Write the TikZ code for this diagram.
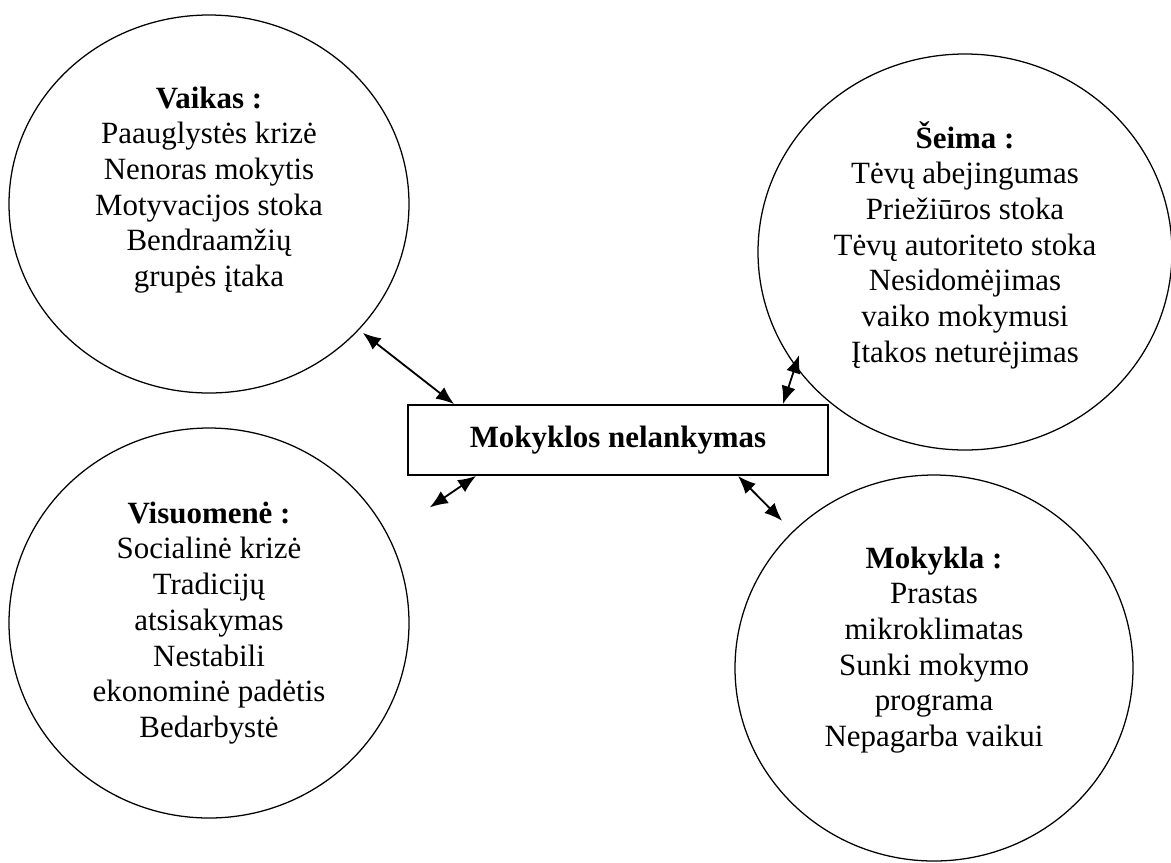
\documentclass[tikz,border=0pt]{standalone}
\usepackage{fontspec}
\setmainfont{Liberation Serif}
\usepackage{tikz}
\usetikzlibrary{positioning}
\usetikzlibrary{shapes,arrows.meta}

\begin{document}
\begin{tikzpicture}[scale=1]
\tikzstyle{cause}=[ellipse, line width=0.9pt, draw=black, inner sep=0pt]
\tikzstyle{txt}=[align=center, font=\fontsize{22}{25.4}\selectfont]
\tikzstyle{box}=[rectangle, line width=1.3pt, draw=black, minimum width=10.5cm, minimum height=1.75cm, font=\fontsize{22}{25.4}\selectfont\bfseries]
\tikzstyle{connect}=[{Latex[length=4.5mm,width=3.6mm]}-{Latex[length=4.5mm,width=3.6mm]}, line width=1.3pt]
\useasboundingbox (0,0) rectangle (29.275,-21.55);
	\node[box] (problem) at (15.45,-11) {Mokyklos nelankymas};

	\node[cause, minimum width=10cm, minimum height=9.45cm] (vaikas) at (5.225,-5.1)
		[label={[txt,yshift=3.5mm]center:{\textbf{Vaikas :}\\Paauglystės krizė\\Nenoras mokytis\\Motyvacijos stoka\\Bendraamžių\\grupės įtaka}}]{};
	\node[cause, minimum width=10.35cm, minimum height=9.9cm] (seima) at (24.125,-6.3)
		[label={[txt,yshift=1.75mm]center:{\textbf{Šeima :}\\Tėvų abejingumas\\Priežiūros stoka\\Tėvų autoriteto stoka\\Nesidomėjimas\\vaiko mokymusi\\Įtakos neturėjimas}}]{};
	\node[cause, minimum width=10cm, minimum height=9.75cm] (visuomene) at (5.225,-15.575)
		[label={[txt]center:{\textbf{Visuomenė :}\\Socialinė krizė\\Tradicijų\\atsisakymas\\Nestabili\\ekonominė padėtis\\Bedarbystė}}]{};
	\node[cause, minimum width=9.95cm, minimum height=9.65cm] (mokykla) at (23.35,-16.7)
		[label={[txt,yshift=4.5mm]center:{\textbf{Mokykla :}\\Prastas\\mikroklimatas\\Sunki mokymo\\programa\\Nepagarba vaikui}}]{};

	\path
		(vaikas.-40) edge [connect, shorten <=1.2mm] ([xshift=11.75mm]problem.north west)
		(seima.-146.5) edge [connect, shorten <=-3mm] ([xshift=-11.5mm]problem.north east)
		(visuomene.26) edge [connect, shorten <=12.5mm] ([xshift=17.25mm]problem.south west)
		(mokykla.136) edge [connect, shorten <=3.7mm] ([xshift=-22.75mm]problem.south east);

\end{tikzpicture}
\end{document}
